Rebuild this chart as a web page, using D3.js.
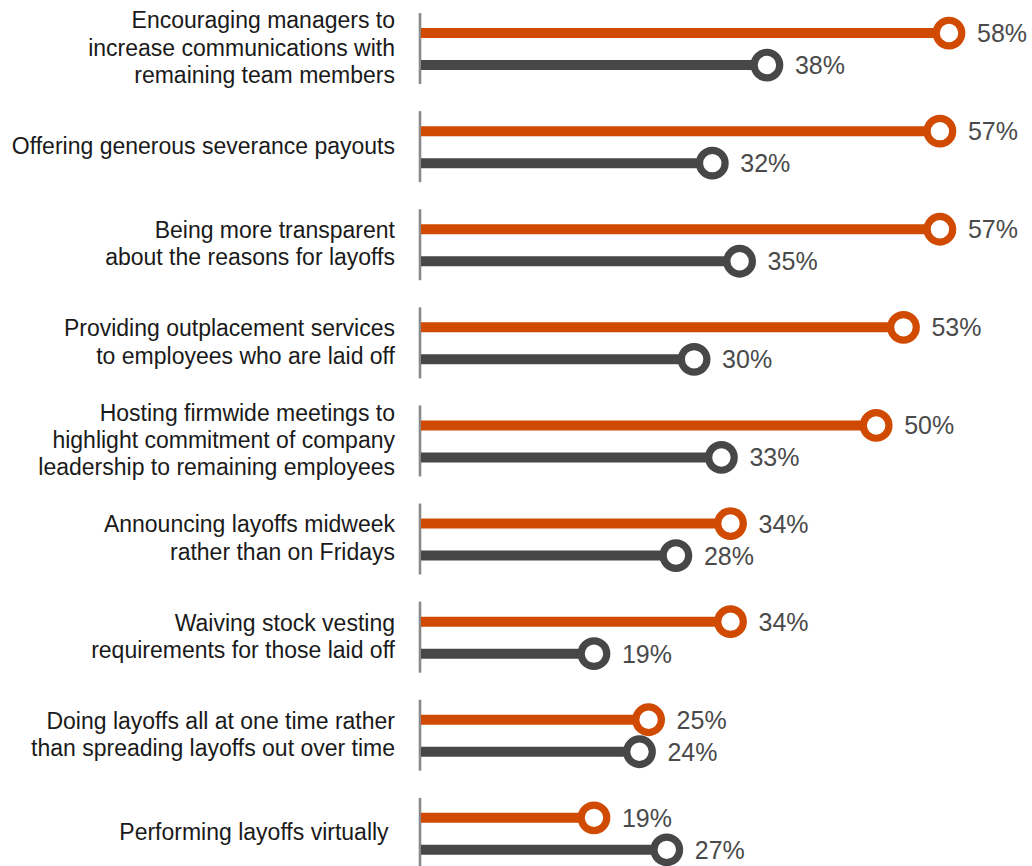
<!DOCTYPE html>
<html>
<head>
<meta charset="utf-8">
<script src="https://cdn.jsdelivr.net/npm/d3@7"></script>
<style>
  html, body { margin: 0; padding: 0; background: #fff; }
  svg { display: block; }
  text { font-family: "Liberation Sans", Arial, Helvetica, sans-serif; }
</style>
</head>
<body>
<svg id="chart" width="1032" height="866"></svg>
<script>
// Survey items, each label split into its display lines
const categories = [
  ["Encouraging managers to", "increase communications with", "remaining team members"],
  ["Offering generous severance payouts"],
  ["Being more transparent", "about the reasons for layoffs"],
  ["Providing outplacement services", "to employees who are laid off"],
  ["Hosting firmwide meetings to", "highlight commitment of company", "leadership to remaining employees"],
  ["Announcing layoffs midweek", "rather than on Fridays"],
  ["Waiving stock vesting", "requirements for those laid off"],
  ["Doing layoffs all at one time rather", "than spreading layoffs out over time"],
  ["Performing layoffs virtually "]
];
const seriesA = [58, 57, 57, 53, 50, 34, 34, 25, 19]; // orange
const seriesB = [38, 32, 35, 30, 33, 28, 19, 24, 27]; // dark gray
const seriesNames = ["A", "B"];
const seriesColors = ["#D04A02", "#474747"];

const svg = d3.select("#chart");
const keys = categories.map((_, i) => i);

const x = d3.scaleLinear().domain([0, 58]).range([421, 949]);
const y = d3.scaleBand().domain(keys).range([0, 9 * 98.1]).padding(0);
const ySub = d3.scaleBand().domain(seriesNames).range([-32, 32]).padding(0);

const rows = keys.map(i => ({
  i,
  lines: categories[i],
  values: [
    { s: "A", v: seriesA[i], color: seriesColors[0] },
    { s: "B", v: seriesB[i], color: seriesColors[1] }
  ]
}));

const g = svg.selectAll("g.row").data(rows).enter().append("g")
  .attr("class", "row")
  .attr("transform", d => `translate(0,${y(d.i) + y.bandwidth() / 2})`);

// vertical baseline for each group
g.append("line")
  .attr("x1", x(0) - 1).attr("x2", x(0) - 1)
  .attr("y1", -36).attr("y2", 35)
  .attr("stroke", "#8a8a8a").attr("stroke-width", 2.6);

// category labels, right aligned next to the baseline
g.append("text")
  .attr("text-anchor", "end")
  .attr("font-size", 23)
  .attr("fill", "#1a1a1a")
  .style("white-space", "pre")
  .each(function (d) {
    const n = d.lines.length;
    const lh = 27.3;
    d3.select(this).selectAll("tspan").data(d.lines).enter().append("tspan")
      .attr("x", 395)
      .attr("y", (_, k) => (k - (n - 1) / 2) * lh - 1.5)
      .attr("dy", "0.35em")
      .text(t => t);
  });

const marks = g.selectAll("g.mark").data(d => d.values).enter().append("g")
  .attr("class", "mark")
  .attr("transform", d => `translate(0,${ySub(d.s) + ySub.bandwidth() / 2})`);

marks.append("line")
  .attr("x1", x(0)).attr("x2", d => x(d.v))
  .attr("y1", 0).attr("y2", 0)
  .attr("stroke", d => d.color).attr("stroke-width", 10);

marks.append("circle")
  .attr("cx", d => x(d.v)).attr("cy", 0)
  .attr("r", 12.8)
  .attr("fill", "#fff")
  .attr("stroke", d => d.color).attr("stroke-width", 7.2);

marks.append("text")
  .attr("x", d => x(d.v) + 28)
  .attr("y", 0)
  .attr("dy", "0.36em")
  .attr("font-size", 25)
  .attr("fill", "#4a4a4a")
  .text(d => d.v + "%");
</script>
</body>
</html>
